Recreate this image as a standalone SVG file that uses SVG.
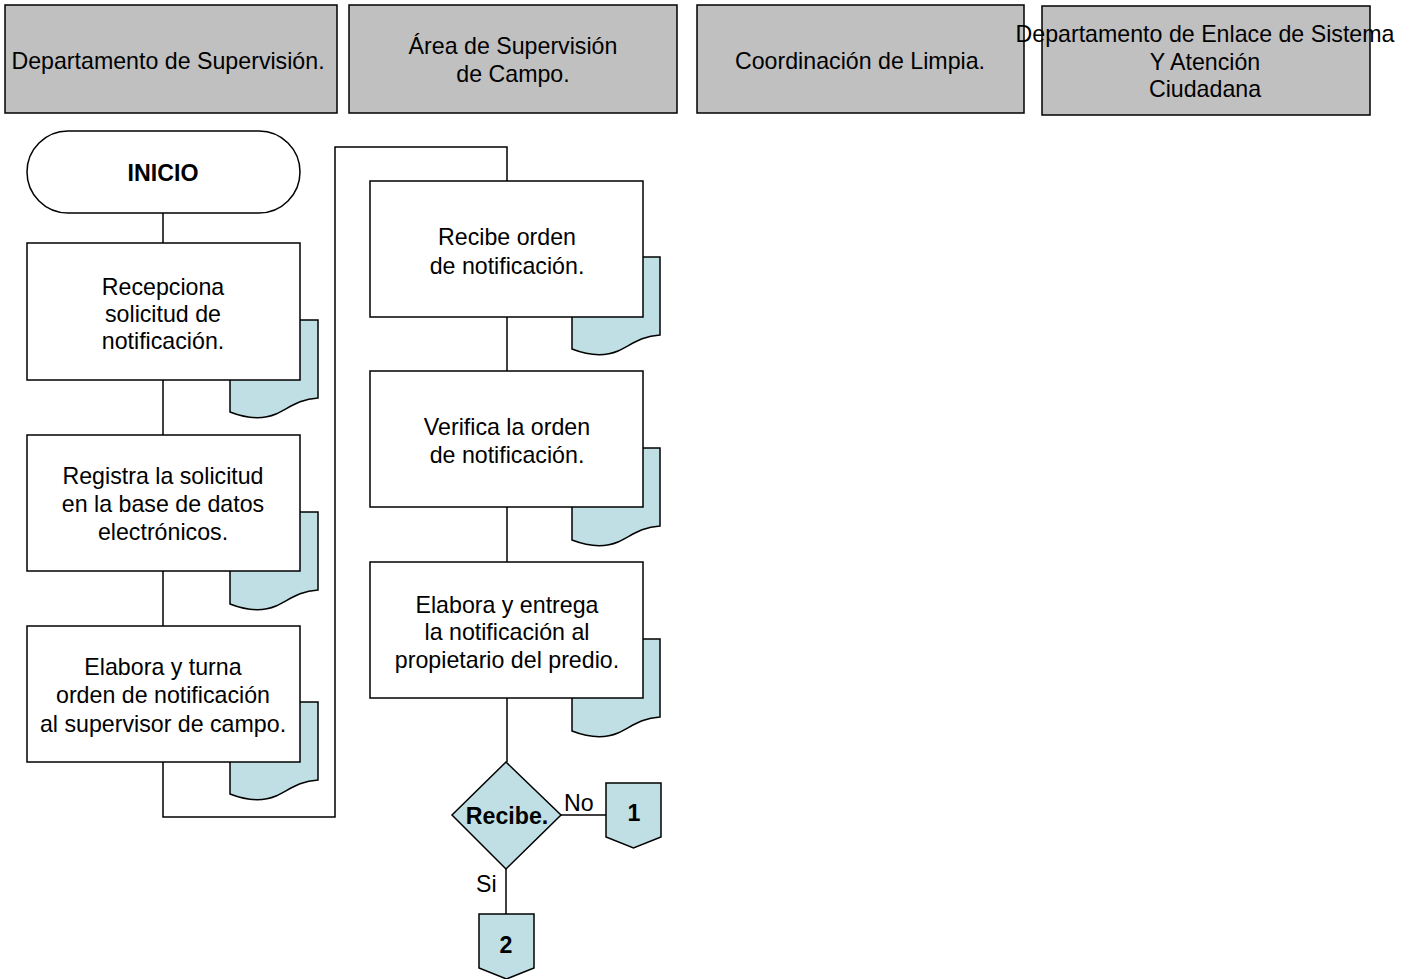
<svg xmlns="http://www.w3.org/2000/svg" width="1412" height="979" viewBox="0 0 1412 979">
  <defs>
    <style>
      .hdr { fill: #c0c0c0; stroke: #000; stroke-width: 1.5; }
      .box { fill: #fff; stroke: #000; stroke-width: 1.5; }
      .doc { fill: #bfdfe4; stroke: #000; stroke-width: 1.5; }
      .shape { fill: #bfdfe4; stroke: #000; stroke-width: 1.5; }
      .line { fill: none; stroke: #000; stroke-width: 1.5; }
      text { font-family: "Liberation Sans", Arial, sans-serif; font-size: 23.2px; fill: #000; text-anchor: middle; dominant-baseline: central; }
      .b { font-weight: bold; }
      .lbl { text-anchor: start; }
    </style>
    <!-- document symbol with wavy bottom, 88 x 98 -->
    <path id="docShape" d="M0,0 H88 V78 C68,79 58,89 46,94 C34,99 18,99 0,92 Z"/>
    <!-- off-page connector, 55 x 65 -->
    <path id="offPage" d="M0,0 H55 V54 L27.5,65 L0,54 Z"/>
  </defs>

  <!-- lane headers -->
  <g id="hdr-supervision">
    <rect class="hdr" x="5" y="5" width="332" height="108"/>
    <text x="168" y="61">Departamento de Supervisión.</text>
  </g>
  <g id="hdr-campo">
    <rect class="hdr" x="349" y="5" width="328" height="108"/>
    <text x="513" y="46">Área de Supervisión</text>
    <text x="513" y="74">de Campo.</text>
  </g>
  <g id="hdr-limpia">
    <rect class="hdr" x="697" y="5" width="327" height="108"/>
    <text x="860" y="61">Coordinación de Limpia.</text>
  </g>
  <g id="hdr-enlace">
    <rect class="hdr" x="1042" y="6" width="328" height="109"/>
    <text x="1205" y="34">Departamento de Enlace de Sistema</text>
    <text x="1205" y="62">Y Atención</text>
    <text x="1205" y="89">Ciudadana</text>
  </g>

  <!-- connectors -->
  <g id="connectors">
    <line class="line" x1="163" y1="213" x2="163" y2="243"/>
    <line class="line" x1="163" y1="380" x2="163" y2="435"/>
    <line class="line" x1="163" y1="571" x2="163" y2="626"/>
    <polyline class="line" points="163,762 163,817 335,817 335,147 507,147 507,181"/>
    <line class="line" x1="507" y1="317" x2="507" y2="371"/>
    <line class="line" x1="507" y1="507" x2="507" y2="562"/>
    <line class="line" x1="507" y1="698" x2="507" y2="762"/>
    <line class="line" x1="561" y1="815" x2="606" y2="815"/>
    <line class="line" x1="506" y1="869" x2="506" y2="914"/>
    <text class="lbl" x="564" y="803">No</text>
    <text class="lbl" x="476" y="884">Si</text>
  </g>

  <!-- start -->
  <g id="inicio">
    <rect class="box" x="27" y="131" width="273" height="82" rx="41" ry="41"/>
    <text class="b" x="163" y="173">INICIO</text>
  </g>

  <!-- Departamento de Supervisión steps -->
  <g id="recepciona">
    <use href="#docShape" class="doc" x="230" y="320"/>
    <rect class="box" x="27" y="243" width="273" height="137"/>
    <text x="163" y="287">Recepciona</text>
    <text x="163" y="314">solicitud de</text>
    <text x="163" y="341">notificación.</text>
  </g>
  <g id="registra">
    <use href="#docShape" class="doc" x="230" y="512"/>
    <rect class="box" x="27" y="435" width="273" height="136"/>
    <text x="163" y="476">Registra la solicitud</text>
    <text x="163" y="504">en la base de datos</text>
    <text x="163" y="532">electrónicos.</text>
  </g>
  <g id="turna">
    <use href="#docShape" class="doc" x="230" y="702"/>
    <rect class="box" x="27" y="626" width="273" height="136"/>
    <text x="163" y="667">Elabora y turna</text>
    <text x="163" y="695">orden de notificación</text>
    <text x="163" y="724">al supervisor de campo.</text>
  </g>

  <!-- Área de Supervisión de Campo steps -->
  <g id="recibe-orden">
    <use href="#docShape" class="doc" x="572" y="257"/>
    <rect class="box" x="370" y="181" width="273" height="136"/>
    <text x="507" y="237">Recibe orden</text>
    <text x="507" y="266">de notificación.</text>
  </g>
  <g id="verifica">
    <use href="#docShape" class="doc" x="572" y="448"/>
    <rect class="box" x="370" y="371" width="273" height="136"/>
    <text x="507" y="427">Verifica la orden</text>
    <text x="507" y="455">de notificación.</text>
  </g>
  <g id="entrega">
    <use href="#docShape" class="doc" x="572" y="639"/>
    <rect class="box" x="370" y="562" width="273" height="136"/>
    <text x="507" y="605">Elabora y entrega</text>
    <text x="507" y="632">la notificación al</text>
    <text x="507" y="660">propietario del predio.</text>
  </g>

  <!-- decision -->
  <g id="decision-recibe">
    <polygon class="shape" points="506,762 561,815 506,869 452,815"/>
    <text class="b" x="507" y="816">Recibe.</text>
  </g>

  <!-- off-page connectors -->
  <g id="conector-1">
    <use href="#offPage" class="shape" x="606" y="783"/>
    <text class="b" x="634" y="813">1</text>
  </g>
  <g id="conector-2">
    <use href="#offPage" class="shape" x="479" y="914"/>
    <text class="b" x="506" y="945">2</text>
  </g>
</svg>
